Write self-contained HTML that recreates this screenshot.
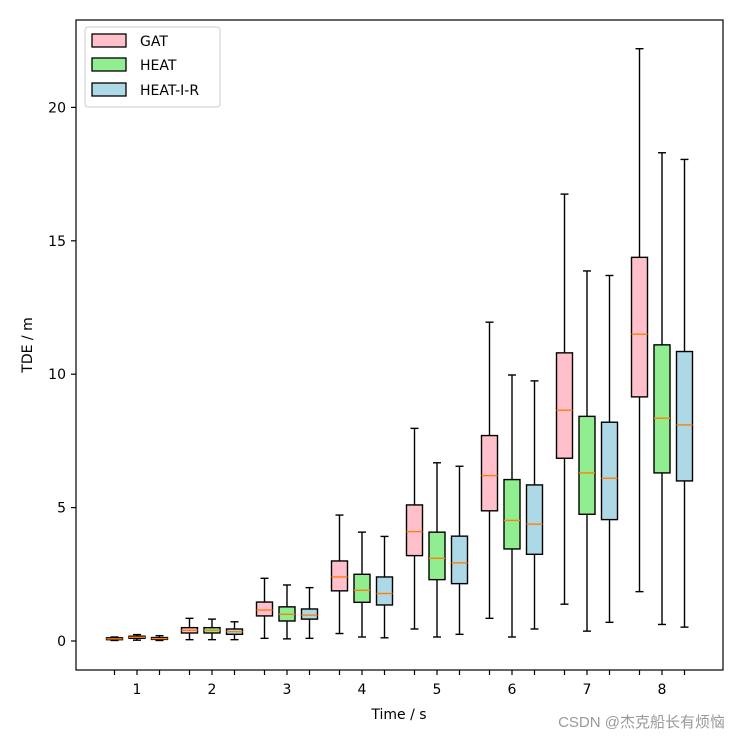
<!DOCTYPE html>
<html><head><meta charset="utf-8"><style>
html,body{margin:0;padding:0;background:#fff;}
svg{display:block;font-family:"DejaVu Sans","Liberation Sans",sans-serif;}
</style></head><body>
<svg id="chart" width="741" height="741" viewBox="0 0 741 741">
<rect width="741" height="741" fill="#fff"/>
<g id="plot"></g>
<rect x="76" y="20" width="647" height="650" fill="none" stroke="#000" stroke-width="1.2"/>
<g id="axes"></g>
<text x="32" y="345" transform="rotate(-90 32 345)" text-anchor="middle" font-size="14">TDE / m</text>
<text x="399" y="719" text-anchor="middle" font-size="14">Time / s</text>
<g>
<rect x="85" y="27" width="135" height="80" rx="3" fill="#fff" stroke="#ccc" stroke-width="1"/>
<rect x="92" y="34" width="34" height="13" fill="pink" stroke="#000" stroke-width="1.3"/>
<text x="140" y="46" font-size="14">GAT</text>
<rect x="92" y="58" width="34" height="13" fill="lightgreen" stroke="#000" stroke-width="1.3"/>
<text x="140" y="70" font-size="14">HEAT</text>
<rect x="92" y="83" width="34" height="13" fill="lightblue" stroke="#000" stroke-width="1.3"/>
<text x="140" y="95" font-size="14">HEAT-I-R</text>
</g>
<text x="725" y="727" text-anchor="end" font-size="15" fill="#999" font-family="'Liberation Sans','Noto Sans CJK SC',sans-serif">CSDN @杰克船长有烦恼</text>
</svg>
<script>
const categories = [1,2,3,4,5,6,7,8];
const seriesNames = ["GAT","HEAT","HEAT-I-R"];
const seriesColors = ["pink","lightgreen","lightblue"];
const yTicks = [0,5,10,15,20];
// [whiskerLow, q1, median, q3, whiskerHigh]
const gatStats = [[0.02,0.05,0.08,0.12,0.15],[0.05,0.3,0.4,0.5,0.85],[0.1,0.94,1.16,1.46,2.35],[0.28,1.88,2.4,3.0,4.72],[0.45,3.2,4.1,5.1,7.97],[0.85,4.88,6.2,7.7,11.95],[1.38,6.85,8.65,10.8,16.75],[1.85,9.15,11.5,14.38,22.2]];
const heatStats = [[0.03,0.1,0.14,0.18,0.24],[0.05,0.3,0.4,0.5,0.82],[0.08,0.75,1.0,1.28,2.1],[0.15,1.45,1.9,2.5,4.08],[0.15,2.3,3.1,4.08,6.68],[0.15,3.45,4.52,6.05,9.97],[0.37,4.75,6.3,8.42,13.87],[0.62,6.3,8.35,11.1,18.3]];
const heatIRStats = [[0.02,0.06,0.09,0.13,0.2],[0.05,0.25,0.35,0.45,0.72],[0.1,0.82,0.97,1.2,2.0],[0.12,1.35,1.78,2.4,3.92],[0.25,2.15,2.93,3.93,6.55],[0.45,3.25,4.38,5.85,9.75],[0.7,4.55,6.1,8.2,13.7],[0.52,6.0,8.1,10.85,18.05]];

const NS="http://www.w3.org/2000/svg";
const yS = v => 641 - v*26.68;
const xS = c => 137 + (c-1)*75;
const offsets = [-22.5,0,22.5];
const plot=document.getElementById('plot'), axes=document.getElementById('axes');
function mk(tag,attrs,parent){const e=document.createElementNS(NS,tag);for(const k in attrs)e.setAttribute(k,attrs[k]);parent.appendChild(e);return e;}
const all=[gatStats,heatStats,heatIRStats];
all.forEach((ser,si)=>{
  ser.forEach((s,ci)=>{
    const cx=xS(categories[ci])+offsets[si], w=16;
    const g=mk('g',{},plot);
    
    
    mk('line',{x1:cx,x2:cx,y1:yS(s[0]),y2:yS(s[1]),stroke:'#000','stroke-width':1.4},g);
    mk('line',{x1:cx,x2:cx,y1:yS(s[3]),y2:yS(s[4]),stroke:'#000','stroke-width':1.4},g);
    mk('line',{x1:cx-4,x2:cx+4,y1:yS(s[0]),y2:yS(s[0]),stroke:'#000','stroke-width':1.4},g);
    mk('line',{x1:cx-4,x2:cx+4,y1:yS(s[4]),y2:yS(s[4]),stroke:'#000','stroke-width':1.4},g);
    mk('rect',{x:cx-w/2,y:yS(s[3]),width:w,height:Math.max(1,yS(s[1])-yS(s[3])),fill:seriesColors[si],stroke:'#000','stroke-width':1.4},g);
    mk('line',{x1:cx-w/2,x2:cx+w/2,y1:yS(s[2]),y2:yS(s[2]),stroke:'#ff7f0e','stroke-width':1.4},g);
  });
});
categories.forEach(c=>{
  offsets.forEach(o=>{
    const t=mk('line',{x1:xS(c)+o,x2:xS(c)+o,y1:670,y2:675,stroke:'#000','stroke-width':1.2},axes);
    
    
  });
  const l=mk('text',{x:xS(c),y:694,'text-anchor':'middle','font-size':14},axes);
  l.textContent=c;
  
  
});
yTicks.forEach(v=>{
  const t=mk('line',{x1:71,x2:76,y1:yS(v),y2:yS(v),stroke:'#000','stroke-width':1.2},axes);
  
  
  const l=mk('text',{x:66,y:yS(v)+5,'text-anchor':'end','font-size':14},axes);
  l.textContent=v;
  
  
});
</script>
</body></html>
